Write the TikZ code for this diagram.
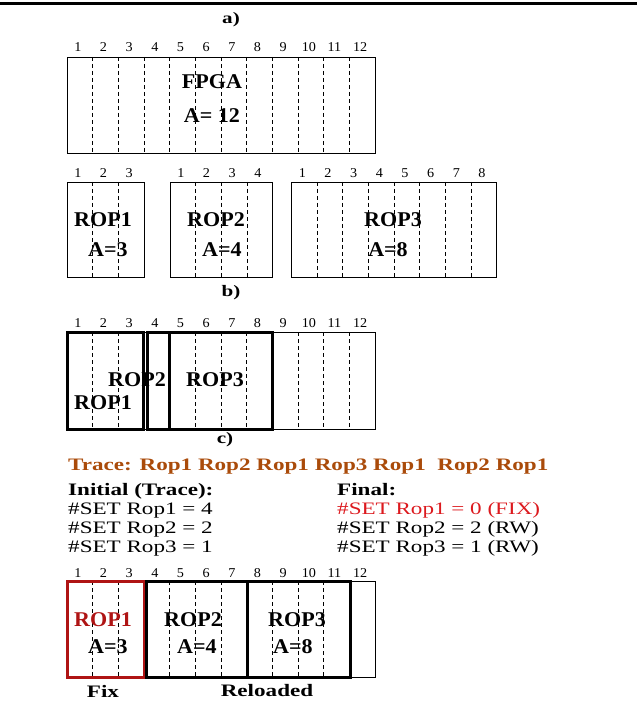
\documentclass[tikz,border=0pt]{standalone}
\usepackage{fontspec}
\setmainfont{Liberation Serif}
\newfontfamily\txtf[FakeStretch=1.32]{Liberation Serif}
\newfontfamily\labf[FakeStretch=1.05]{Liberation Serif}
\newfontfamily\numf[FakeStretch=1.05]{Liberation Serif}
\definecolor{tracebrown}{RGB}{170,75,10}
\definecolor{fixred}{RGB}{220,25,30}
\definecolor{ropred}{RGB}{175,20,20}
\tikzset{
  lab/.style={font=\labf\fontsize{21}{24}\selectfont\bfseries, inner sep=0pt},
  num/.style={font=\numf\fontsize{13.5}{15}\selectfont, inner sep=0pt},
  txt/.style={font=\txtf\fontsize{17.5}{20}\selectfont, inner sep=0pt, anchor=base west},
  txtb/.style={txt, font=\txtf\fontsize{17.5}{20}\selectfont\bfseries},
  head/.style={font=\txtf\fontsize{16}{19}\selectfont\bfseries, inner sep=0pt},
  foot/.style={font=\txtf\fontsize{17.5}{20}\selectfont\bfseries, inner sep=0pt},
  grid/.style={dash pattern=on 4pt off 3pt, line width=0.7pt},
  frame/.style={line width=0.7pt},
  ropbox/.style={line width=3pt},
}
\def\cw{25.667}
\begin{document}
\begin{tikzpicture}[x=1pt,y=-1pt]
\useasboundingbox (0,0) rectangle (637,708);
\draw[line width=3pt] (0,4) -- (637,4);

% ---------- a) ----------
\node[head] (la) at (231,20) {a)};
\foreach \i in {1,...,12} {
  \node[num] (na\i) at ({65+(\i-0.5)*\cw},47) {\i};
}
\draw[frame] (67,57) rectangle (375,153);
\foreach \i in {1,...,11} {
  \draw[grid] ({67+\i*\cw},57) -- ({67+\i*\cw},153);
}
\node[lab] (fpga) at (212,82) {FPGA};
\node[lab] (afpga) at (212,116) {A= 12};

% ---------- ROP row ----------
\foreach \i in {1,...,3} { \node[num] (nr1\i) at ({65+(\i-0.5)*\cw},173) {\i}; }
\draw[frame] (67,182) rectangle ({67+3*\cw},277);
\foreach \i in {1,2} { \draw[grid] ({67+\i*\cw},182) -- ({67+\i*\cw},277); }
\node[lab] (r1) at (103,220) {ROP1};
\node[lab] (a1) at (108,250) {A=3};

\foreach \i in {1,...,4} { \node[num] (nr2\i) at ({168+(\i-0.5)*\cw},173) {\i}; }
\draw[frame] (170,182) rectangle ({170+4*\cw},277);
\foreach \i in {1,2,3} { \draw[grid] ({170+\i*\cw},182) -- ({170+\i*\cw},277); }
\node[lab] (r2) at (216,220) {ROP2};
\node[lab] (a2) at (222,250) {A=4};

\foreach \i in {1,...,8} { \node[num] (nr3\i) at ({289.5+(\i-0.5)*\cw},173) {\i}; }
\draw[frame] (291.5,182) rectangle ({291.5+8*\cw},277);
\foreach \i in {1,...,7} { \draw[grid] ({291.5+\i*\cw},182) -- ({291.5+\i*\cw},277); }
\node[lab] (r3) at (393,220) {ROP3};
\node[lab] (a3) at (388,250) {A=8};

% ---------- b) ----------
\node[head] (lb) at (231,293) {b)};
\foreach \i in {1,...,12} {
  \node[num] (nb\i) at ({65+(\i-0.5)*\cw},323) {\i};
}
\draw[frame] (67,332) rectangle (375,429);
\foreach \i in {1,2,5,6,7,9,10,11} {
  \draw[grid] ({67+\i*\cw},332) -- ({67+\i*\cw},429);
}
\draw[ropbox] (67.5,332) rectangle (143,429);
\draw[ropbox] (147,332) rectangle (169,429);
\draw[ropbox] (169,332) rectangle (272.7,429);
\node[lab] (br2) at (137,380) {ROP2};
\node[lab] (br1) at (103,403) {ROP1};
\node[lab] (br3) at (215,380) {ROP3};

% ---------- c) ----------
\node[head] (lc) at (225,440) {c)};
\node[txtb, text=tracebrown] (trace) at (68,470)
  {Trace: Rop1 Rop2 Rop1 Rop3 Rop1\ \ Rop2 Rop1};
\node[txtb] (init) at (68,495) {Initial (Trace):};
\node[txt] (s1) at (68,514) {\#SET Rop1 = 4};
\node[txt] (s2) at (68,533) {\#SET Rop2 = 2};
\node[txt] (s3) at (68,552) {\#SET Rop3 = 1};
\node[txtb] (fin) at (337,495) {Final:};
\node[txt, text=fixred] (f1) at (337,514) {\#SET Rop1 = 0 (FIX)};
\node[txt] (f2) at (337,533) {\#SET Rop2 = 2 (RW)};
\node[txt] (f3) at (337,552) {\#SET Rop3 = 1 (RW)};

\foreach \i in {1,...,12} {
  \node[num] (nc\i) at ({65+(\i-0.5)*\cw},573) {\i};
}
\draw[frame] (67,581) rectangle (375,677);
\foreach \i in {1,2,4,5,6,8,9,10} {
  \draw[grid] ({67+\i*\cw},581) -- ({67+\i*\cw},677);
}
\draw[ropbox, draw=ropred] (67.5,581) rectangle (144,677);
\draw[ropbox] (146,581) rectangle (247,677);
\draw[ropbox] (247,581) rectangle (350,677);
\node[lab, text=ropred] (cr1) at (103,620) {ROP1};
\node[lab] (ca1) at (108,647) {A=3};
\node[lab] (cr2) at (193,620) {ROP2};
\node[lab] (ca2) at (197,647) {A=4};
\node[lab] (cr3) at (297,620) {ROP3};
\node[lab] (ca3) at (293,647) {A=8};
\node[foot] (fix) at (103,691) {Fix};
\node[foot] (rel) at (267,691) {Reloaded};
\end{tikzpicture}
\end{document}
